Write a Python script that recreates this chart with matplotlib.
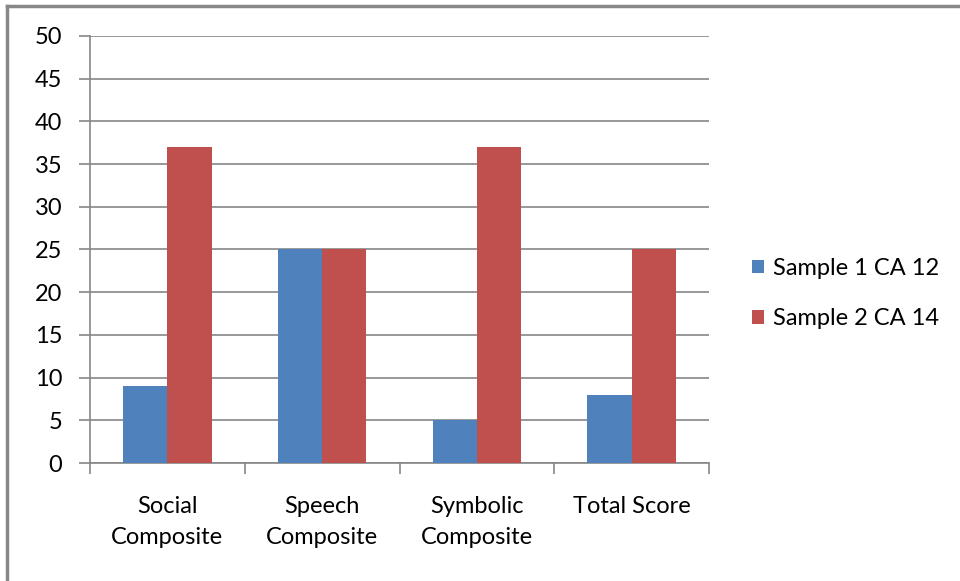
import numpy as np
import matplotlib.pyplot as plt
from matplotlib.lines import Line2D

categories = ['Social\nComposite', 'Speech\nComposite', 'Symbolic\nComposite', 'Total Score']
sample1 = [9, 25, 5, 8]
sample2 = [37, 25, 37, 25]
series_names = ['Sample 1 CA 12', 'Sample 2 CA 14']

plt.rcParams['font.family'] = ['Lato', 'DejaVu Sans']

fig = plt.figure(figsize=(9.6, 5.81), dpi=100)
ax = fig.add_axes([90 / 960, 1 - 463 / 581, 619 / 960, 427 / 581])

# outer chart border (top and left only are visible)
fig.add_artist(Line2D([7 / 960, 1], [1 - 6 / 581, 1 - 6 / 581], transform=fig.transFigure,
                      color='#888888', lw=2.5))
fig.add_artist(Line2D([7 / 960, 7 / 960], [0, 1 - 6 / 581], transform=fig.transFigure,
                      color='#888888', lw=2.5))

x = np.arange(len(categories))
w = 1 / 3.5
ax.bar(x - w / 2, sample1, w, color='#4F81BD', label=series_names[0], zorder=3)
ax.bar(x + w / 2, sample2, w, color='#C0504D', label=series_names[1], zorder=3)

ax.set_xlim(-0.5, len(categories) - 0.5)
ax.set_ylim(0, 50)
ax.set_yticks(np.arange(0, 51, 5))
ax.yaxis.grid(True, color='#868686', lw=1.2, zorder=0)

# category boundaries get the tick marks, labels sit in the middle
ax.set_xticks(np.arange(-0.5, len(categories), 1))
ax.set_xticklabels([])
ax.set_xticks(x, minor=True)
ax.set_xticklabels(categories, minor=True, fontsize=17, linespacing=1.55)
ax.tick_params(axis='x', which='major', length=8, width=1.2, color='#868686', direction='out')
ax.tick_params(axis='x', which='minor', length=0, pad=24)
ax.tick_params(axis='y', length=8, width=1.2, color='#868686', labelsize=17, pad=12)

for s in ['top', 'right']:
    ax.spines[s].set_visible(False)
for s in ['left', 'bottom']:
    ax.spines[s].set_color('#868686')
    ax.spines[s].set_linewidth(1.2)

ax.legend(loc='center left', bbox_to_anchor=(1.069, 0.397), frameon=False, fontsize=17,
          borderaxespad=0, borderpad=0,
          handlelength=0.5, handleheight=0.5, handletextpad=0.4, labelspacing=1.25)

fig.savefig('out.png', dpi=100, facecolor='white')
